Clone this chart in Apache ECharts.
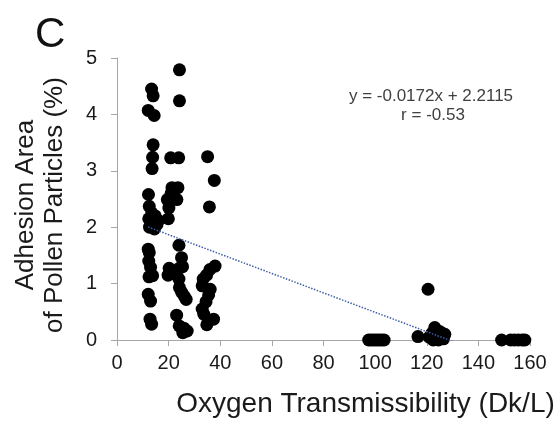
<!DOCTYPE html>
<html>
<head>
<meta charset="utf-8">
<script src="https://cdn.jsdelivr.net/npm/echarts@6/dist/echarts.min.js"></script>
<style>
  html, body { margin: 0; padding: 0; background: #fff; }
  #chart { width: 560px; height: 423px; }
</style>
</head>
<body>
<div id="chart"></div>
<script>
// Oxygen transmissibility (Dk/L) of each lens and the adhesion area of pollen particles (%)
const lowDkX = [13.4, 14, 12.1, 14.4, 14, 13.8, 13.6, 12.2, 12.5, 13.5, 14.8, 12.3, 13.8, 15.5, 12.6, 14.5, 16, 12.1, 12.5, 12.3, 13, 13.8, 12.4, 12.1, 13, 12.8, 13.4];
const lowDkY = [4.45, 4.33, 4.07, 3.98, 3.46, 3.24, 3.04, 2.58, 2.37, 2.25, 2.2, 2.15, 2.1, 2.05, 2.0, 1.97, 2.12, 1.61, 1.55, 1.4, 1.29, 1.14, 1.12, 0.81, 0.69, 0.37, 0.28];

const midDkX = [24.2, 24.2, 20.8, 23.9, 21.3, 23.6, 19.5, 23.2, 21, 20.1, 19.9, 24, 25, 20.2, 24.1, 25.4, 19.8, 21.2, 24, 24.2, 25, 26, 26.8, 23.1, 24.1, 25.9, 27.2, 25.5];
const midDkY = [4.79, 4.24, 3.23, 3.23, 2.70, 2.70, 2.49, 2.49, 2.6, 2.34, 2.15, 1.68, 1.46, 1.27, 1.27, 1.3, 1.15, 1.18, 1.08, 0.93, 0.85, 0.78, 0.72, 0.44, 0.25, 0.21, 0.16, 0.13];

const hiMidDkX = [35.1, 37.7, 35.8, 38, 36, 34.7, 33.4, 33, 36.1, 35.5, 34.5, 33, 33.6, 37.4, 34.8];
const hiMidDkY = [3.25, 2.83, 2.36, 1.31, 1.25, 1.15, 1.08, 0.96, 0.9, 0.8, 0.68, 0.55, 0.46, 0.37, 0.27];

const highDkX = [97.5, 98.5, 99.5, 100.5, 101.5, 102.5, 103.5, 116.6, 120.5, 121, 122, 123.1, 124, 125, 126, 126.5, 122.5, 124.5, 127, 149, 152.5, 154, 155.5, 157, 158];
const highDkY = [0, 0, 0, 0, 0, 0, 0, 0.06, 0.9, 0.05, 0.12, 0.22, 0.08, 0.15, 0.12, 0.02, 0, 0, 0.1, 0, 0, 0, 0, 0, 0];

// Linear fit shown on the chart
const slope = -0.0172;
const intercept = 2.2115;
const fitLabel = 'y = -0.0172x + 2.2115';
const corrLabel = 'r = -0.53';

const xTicks = [0, 20, 40, 60, 80, 100, 120, 140, 160];
const yTicks = [0, 1, 2, 3, 4, 5];

const groupsX = [lowDkX, midDkX, hiMidDkX, highDkX];
const groupsY = [lowDkY, midDkY, hiMidDkY, highDkY];
const points = [];
groupsX.forEach((xs, g) => xs.forEach((x, i) => points.push([x, groupsY[g][i]])));

const allX = points.map(p => p[0]);
const xMin = Math.min(...allX);
const xMax = Math.max(...allX);
const fitLine = [[xMin, slope * xMin + intercept], [xMax, slope * xMax + intercept]];

const axisGray = '#a6a6a6';
const font = 'Liberation Sans, Arial';
const chart = echarts.init(document.getElementById('chart'), null, { renderer: 'canvas' });
chart.setOption({
  animation: false,
  backgroundColor: '#ffffff',
  grid: { left: 117, right: 30, top: 58, bottom: 82, containLabel: false },
  xAxis: {
    type: 'value',
    min: xTicks[0],
    max: xTicks[xTicks.length - 1],
    interval: xTicks[1] - xTicks[0],
    name: 'Oxygen Transmissibility (Dk/L)',
    nameLocation: 'middle',
    nameGap: 50,
    nameTextStyle: { fontFamily: font, fontSize: 28, color: '#1a1a1a', padding: [0, 0, 0, 84] },
    axisLine: { show: true, lineStyle: { color: axisGray, width: 1 } },
    axisTick: { show: true, length: 6, lineStyle: { color: axisGray } },
    axisLabel: { margin: 13, fontFamily: font, fontSize: 20, color: '#1a1a1a' },
    splitLine: { show: false }
  },
  yAxis: {
    type: 'value',
    min: yTicks[0],
    max: yTicks[yTicks.length - 1],
    interval: yTicks[1] - yTicks[0],
    name: 'Adhesion Area\nof Pollen Particles (%)',
    nameLocation: 'middle',
    nameGap: 48,
    nameTextStyle: { fontFamily: font, fontSize: 26, lineHeight: 29, color: '#1a1a1a', padding: [0, 12, 0, 0] },
    axisLine: { show: true, lineStyle: { color: axisGray, width: 1 } },
    axisTick: { show: true, length: 6, lineStyle: { color: axisGray } },
    axisLabel: { margin: 20, fontFamily: font, fontSize: 20, color: '#1a1a1a' },
    splitLine: { show: false }
  },
  graphic: [
    { type: 'text', left: 35, top: 14, style: { text: 'C', fontFamily: font, fontSize: 42, fill: '#111' } },
    { type: 'text', x: 431, y: 96, style: { text: fitLabel, fontFamily: font, fontSize: 17, fill: '#404040', textAlign: 'center', textVerticalAlign: 'middle' } },
    { type: 'text', x: 433, y: 115, style: { text: corrLabel, fontFamily: font, fontSize: 17, fill: '#404040', textAlign: 'center', textVerticalAlign: 'middle' } }
  ],
  series: [
    {
      type: 'scatter',
      data: points,
      symbol: 'circle',
      symbolSize: 13,
      itemStyle: { color: '#000000', opacity: 1 },
      z: 2
    },
    {
      type: 'line',
      data: fitLine,
      showSymbol: false,
      clip: true,
      lineStyle: { color: '#3d5fa8', width: 1.5, type: 'dotted' },
      z: 3
    }
  ]
});
</script>
</body>
</html>
